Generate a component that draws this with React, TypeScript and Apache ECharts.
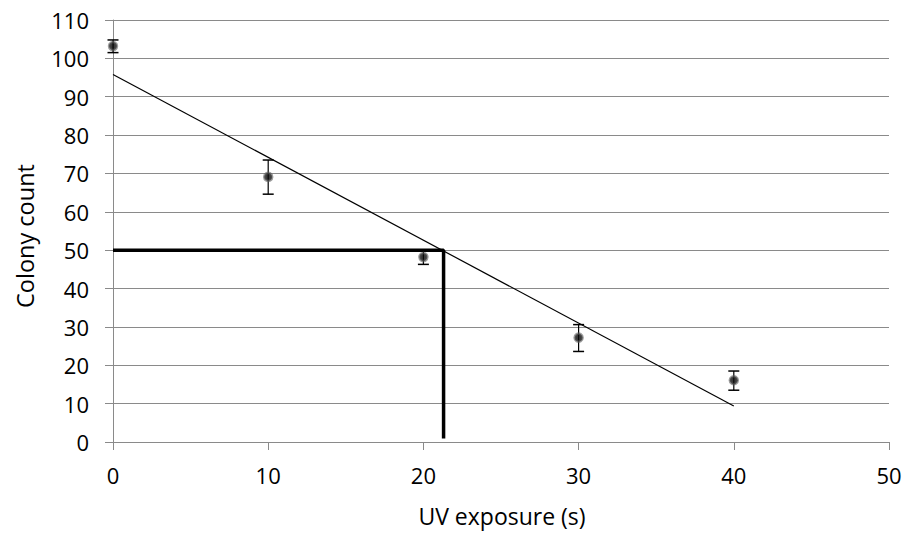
import React, { useEffect, useRef } from "react";
import * as echarts from "echarts";

const exposure = [0, 10, 20, 30, 40];
const colonyCount = [103.2, 69.1, 48.2, 27.2, 16.1];
const errorMinus = [1.7, 4.5, 1.9, 3.6, 2.6];
const errorPlus = [1.6, 4.4, 1.9, 3.4, 2.4];
const trendX = [0, 40];
const trendY = [95.8, 9.4];
const guideX = [0, 21.3, 21.3];
const guideY = [50, 50, 0.9];
const yTicks = [0, 10, 20, 30, 40, 50, 60, 70, 80, 90, 100, 110];
const xTicks = [0, 10, 20, 30, 40, 50];

const FONT = "'Open Sans', sans-serif";
const GRID = "#8a8a8a";

export default function App() {
  const ref = useRef<HTMLDivElement>(null);
  useEffect(() => {
    document.body.style.margin = "0";
    const chart = echarts.init(ref.current!, null, { renderer: "svg" });
    const errData = exposure.map((x, i) => [x, colonyCount[i] - errorMinus[i], colonyCount[i] + errorPlus[i]]);
    chart.setOption({
      animation: false,
      backgroundColor: "#fff",
      grid: { left: 113, right: 22, top: 20, bottom: 91 },
      xAxis: {
        type: "value",
        min: xTicks[0],
        max: xTicks[xTicks.length - 1],
        interval: 10,
        splitLine: { show: false },
        axisLine: { show: true, lineStyle: { color: GRID, width: 1 } },
        axisTick: { show: true, length: 8, lineStyle: { color: GRID } },
        axisLabel: { color: "#000", fontFamily: FONT, fontSize: 22, margin: 22 },
      },
      yAxis: {
        type: "value",
        min: yTicks[0],
        max: yTicks[yTicks.length - 1],
        interval: 10,
        splitLine: { show: true, lineStyle: { color: GRID, width: 1 } },
        axisLine: { show: true, lineStyle: { color: GRID, width: 1 } },
        axisTick: { show: true, length: 8, lineStyle: { color: GRID } },
        axisLabel: { color: "#000", fontFamily: FONT, fontSize: 22, margin: 24 },
      },
      graphic: [
        {
          type: "text",
          x: 25,
          y: 236,
          rotation: Math.PI / 2,
          style: {
            text: "Colony count",
            font: `23.5px ${FONT}`,
            fill: "#000",
            align: "center",
            verticalAlign: "middle",
          },
        },
        {
          type: "text",
          x: 502,
          y: 516,
          style: {
            text: "UV exposure (s)",
            font: `23px ${FONT}`,
            fill: "#000",
            align: "center",
            verticalAlign: "middle",
          },
        },
      ],
      series: [
        {
          type: "line",
          data: trendX.map((x, i) => [x, trendY[i]]),
          symbol: "none",
          lineStyle: { color: "#000", width: 1.2 },
          z: 3,
        },
        {
          type: "line",
          data: guideX.map((x, i) => [x, guideY[i]]),
          symbol: "none",
          lineStyle: { color: "#000", width: 3.5 },
          z: 4,
        },
        {
          type: "custom",
          data: errData,
          renderItem: (params: any, api: any) => {
            const x = api.value(0);
            const lo = api.coord([x, api.value(1)]);
            const hi = api.coord([x, api.value(2)]);
            const cw = 5.5;
            return {
              type: "group",
              children: [
                { type: "line", shape: { x1: lo[0], y1: lo[1], x2: hi[0], y2: hi[1] }, style: { stroke: "#000", lineWidth: 1.2 } },
                { type: "line", shape: { x1: lo[0] - cw, y1: lo[1], x2: lo[0] + cw, y2: lo[1] }, style: { stroke: "#000", lineWidth: 1.5 } },
                { type: "line", shape: { x1: hi[0] - cw, y1: hi[1], x2: hi[0] + cw, y2: hi[1] }, style: { stroke: "#000", lineWidth: 1.5 } },
              ],
            };
          },
          z: 5,
        },
        {
          type: "scatter",
          data: exposure.map((x, i) => [x, colonyCount[i]]),
          symbol: "circle",
          symbolSize: 8,
          itemStyle: { color: "#0a0a0a", borderColor: "rgba(90,90,90,0.75)", borderWidth: 2.5 },
          z: 6,
        },
      ],
    });
    return () => chart.dispose();
  }, []);
  return <div ref={ref} style={{ width: 911, height: 533 }} />;
}
